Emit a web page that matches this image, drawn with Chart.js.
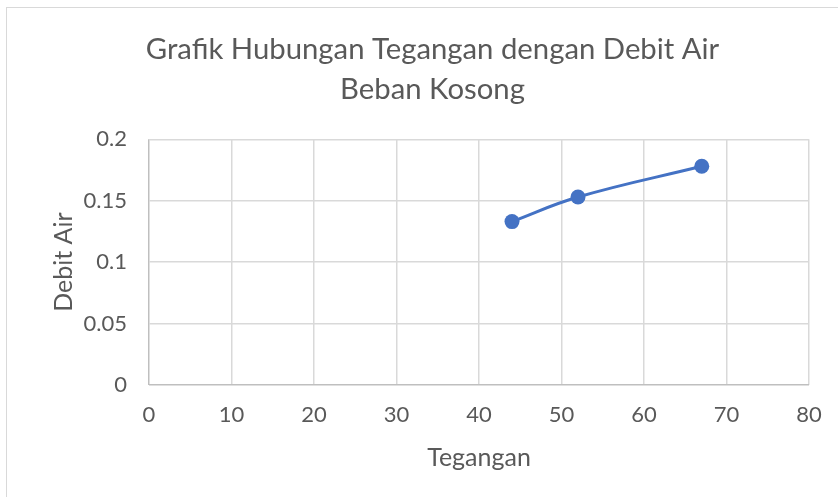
<!DOCTYPE html>
<html>
<head>
<meta charset="utf-8">
<script src="https://cdn.jsdelivr.net/npm/chart.js@4.4.1/dist/chart.umd.min.js"></script>
<style>
    html, body {
        margin: 0;
        padding: 0;
        background: #ffffff;
        overflow: hidden;
    }
    #box {
        position: absolute;
        left: 6px;
        top: 7px;
        width: 851px;
        height: 489px;
        border: 1px solid #d9d9d9;
    }
</style>
</head>
<body>
<div id="box">
    <canvas id="chart" width="851" height="489"></canvas>
</div>
<script>
const titleLines = ["Grafik Hubungan Tegangan dengan Debit Air", "Beban Kosong"];
const xTitle = "Tegangan";
const yTitle = "Debit Air";

const tegangan = [44, 52, 67];
const debitAir = [0.133, 0.153, 0.178];

const xTicks = [0, 10, 20, 30, 40, 50, 60, 70, 80];
const yTicks = [0, 0.05, 0.1, 0.15, 0.2];

const textColor = "#595959";
const fontFamily = "Lato, 'Open Sans', sans-serif";

const points = tegangan.map((x, i) => ({ x: x, y: debitAir[i] }));

new Chart(
    document.getElementById("chart"),
    {
        type: 'scatter',

        data: {
            datasets: [{
                label: yTitle,
                data: points,
                showLine: true,
                tension: 0.4,
                borderColor: "#4472C4",
                backgroundColor: "#4472C4",
                borderWidth: 3,
                pointRadius: 7.5,
                pointHoverRadius: 7.5,
                pointBorderWidth: 0
            }]
        },

        options: {
            responsive: false,
            animation: false,
            layout: {
                padding: 0
            },
            plugins: {
                legend: { display: false },
                tooltip: { enabled: false },
                title: {
                    display: true,
                    text: titleLines,
                    color: textColor,
                    font: { family: fontFamily, size: 29.3, weight: 'normal', lineHeight: 1.37 },
                    padding: { top: 21, bottom: 30 }
                }
            },
            scales: {
                x: {
                    type: 'linear',
                    min: 0,
                    max: 80,
                    afterFit: scale => { scale.height = 112; },
                    afterBuildTicks: scale => {
                        scale.ticks = xTicks.map(v => ({ value: v }));
                    },
                    ticks: {
                        color: textColor,
                        font: { family: fontFamily, size: 22 },
                        padding: 17,
                        maxRotation: 0
                    },
                    grid: {
                        color: ctx => ctx.index === 0 ? "#bfbfbf" : "#d9d9d9",
                        lineWidth: 1.5,
                        drawTicks: false
                    },
                    border: { display: false },
                    title: {
                        display: true,
                        text: xTitle,
                        color: textColor,
                        font: { family: fontFamily, size: 25 },
                        padding: { top: 0, bottom: 24 }
                    }
                },
                y: {
                    min: 0,
                    max: 0.2,
                    afterFit: scale => { scale.width = 142; },
                    afterBuildTicks: scale => {
                        scale.ticks = yTicks.map(v => ({ value: v }));
                    },
                    ticks: {
                        color: textColor,
                        font: { family: fontFamily, size: 22 },
                        padding: 22,
                        callback: v => String(Math.round(v * 100) / 100)
                    },
                    grid: {
                        color: ctx => ctx.index === 0 ? "#bfbfbf" : "#d9d9d9",
                        lineWidth: 1.5,
                        drawTicks: false
                    },
                    border: { display: false },
                    title: {
                        display: true,
                        text: yTitle,
                        color: textColor,
                        font: { family: fontFamily, size: 25 },
                        padding: { top: 42, bottom: 0 }
                    }
                },
                // empty right-hand space so the title stays centred on the whole box
                yRight: {
                    position: 'right',
                    min: 0,
                    max: 0.2,
                    afterFit: scale => { scale.width = 49; },
                    ticks: { display: false },
                    grid: { display: false },
                    border: { display: false }
                }
            }
        }
    }
);
</script>
</body>
</html>
